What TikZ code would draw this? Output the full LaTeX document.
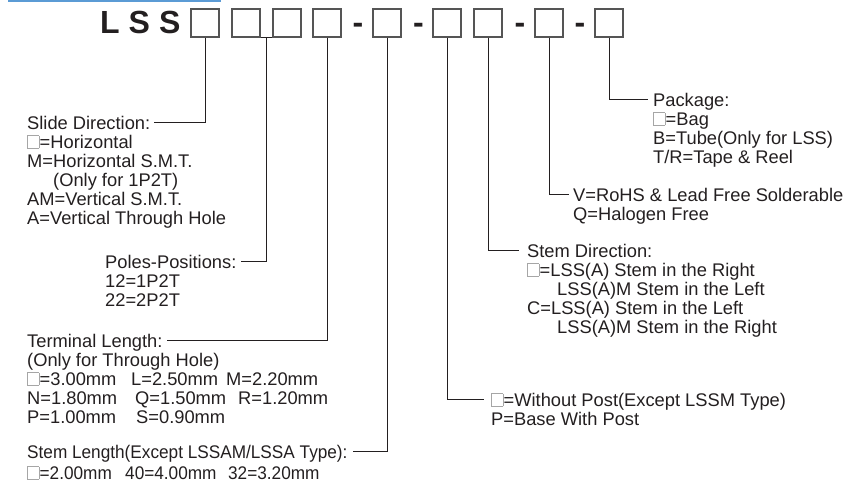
\documentclass[tikz,border=0pt]{standalone}
\usepackage{fontspec}
\setmainfont{Liberation Sans}
\definecolor{ink}{HTML}{231F20}
\definecolor{barblue}{HTML}{5B9BD5}
\definecolor{boxgray}{HTML}{555555}
\definecolor{sqgray}{HTML}{A6A6A6}
\newcommand{\sqb}{{\color{sqgray}\setlength{\fboxsep}{0pt}\setlength{\fboxrule}{0.7pt}\fbox{\rule{0pt}{12pt}\rule{10.6pt}{0pt}}}\kern0.5pt}
\begin{document}
\begin{tikzpicture}[x=1pt,y=-1pt,
  txt/.style={anchor=base west,inner sep=0pt,text height=14pt,text depth=0pt,font=\fontsize{18.3}{19}\selectfont,text=ink},
  narrow/.style={font=\fontsize{18.3}{19}\selectfont\addfontfeatures{FakeStretch=0.94}},
  pbox/.style={draw=boxgray,line width=1.1pt,minimum size=28pt,inner sep=0pt},
  conn/.style={draw=ink,line width=0.9pt},
  big/.style={anchor=base,inner sep=0pt,font=\fontsize{32}{32}\selectfont\bfseries,text=ink}]
\useasboundingbox (0,0) rectangle (857,485);
\fill[barblue] (8,0) rectangle (221,2.3);
% part number
\node[big,anchor=base west] (lss) at (100,33) {L\kern9pt S\kern9pt S};
\node[pbox] (b1) at (205,23) {};
\node[pbox] (b2) at (246,23) {};
\node[pbox] (b3) at (287,23) {};
\node[pbox] (b4) at (327,23) {};
\node[big] (d1) at (358,33) {-};
\node[pbox] (b5) at (387,23) {};
\node[big] (d2) at (418.5,33) {-};
\node[pbox] (b6) at (447,23) {};
\node[pbox] (b7) at (488,23) {};
\node[big] (d3) at (520,33) {-};
\node[pbox] (b8) at (549,23) {};
\node[big] (d4) at (580,33) {-};
\node[pbox] (b9) at (609,23) {};
% slide direction
\node[txt] (sd1) at (27,129) {Slide Direction:};
\node[txt] (sd2) at (27,148) {\sqb=Horizontal};
\node[txt] (sd3) at (27,167) {M=Horizontal S.M.T.};
\node[txt] (sd4) at (53,186) {(Only for 1P2T)};
\node[txt] (sd5) at (27,205) {AM=Vertical S.M.T.};
\node[txt] (sd6) at (27,224) {A=Vertical Through Hole};
% poles
\node[txt] (pp1) at (105,268) {Poles-Positions:};
\node[txt] (pp2) at (105,287) {12=1P2T};
\node[txt] (pp3) at (105,306) {22=2P2T};
% terminal length
\node[txt] (tl1) at (27,347) {Terminal Length:};
\node[txt] (tl2) at (27,366) {(Only for Through Hole)};
\node[txt] (tl3) at (27,385) {\makebox[104pt][l]{\sqb=3.00mm}\makebox[95pt][l]{L=2.50mm}M=2.20mm};
\node[txt] (tl4) at (27,404) {\makebox[108pt][l]{N=1.80mm}\makebox[103pt][l]{Q=1.50mm}R=1.20mm};
\node[txt] (tl5) at (27,423) {\makebox[109pt][l]{P=1.00mm}S=0.90mm};
% stem length
\node[txt,narrow] (sl1) at (27,458) {Stem Length(Except LSSAM/LSSA Type):};
\node[txt,narrow] (sl2) at (27,479) {\makebox[98pt][l]{\sqb=2.00mm}\makebox[103pt][l]{40=4.00mm}32=3.20mm};
% package
\node[txt] (pk1) at (653,106) {Package:};
\node[txt] (pk2) at (653,125) {\sqb=Bag};
\node[txt] (pk3) at (653,144) {B=Tube(Only for LSS)};
\node[txt] (pk4) at (653,163) {T/R=Tape \& Reel};
% rohs
\node[txt] (vq1) at (573,201) {V=RoHS \& Lead Free Solderable};
\node[txt] (vq2) at (573,220) {Q=Halogen Free};
% stem direction
\node[txt] (st1) at (527,257) {Stem Direction:};
\node[txt] (st2) at (527,276) {\sqb=LSS(A) Stem in the Right};
\node[txt] (st3) at (557,295) {LSS(A)M Stem in the Left};
\node[txt] (st4) at (527,314) {C=LSS(A) Stem in the Left};
\node[txt] (st5) at (557,333) {LSS(A)M Stem in the Right};
% post
\node[txt] (po1) at (491,406) {\sqb=Without Post(Except LSSM Type)};
\node[txt] (po2) at (491,425) {P=Base With Post};
% connectors
\coordinate (j23) at (266.5,37);
\draw[conn] (b2.south east) -- (b3.south west);
\draw[conn] (b1.south) |- ([xshift=4pt]sd1.east);
\draw[conn] (j23) |- ([xshift=4pt]pp1.east);
\draw[conn] (b4.south) |- ([xshift=4pt]tl1.east);
\draw[conn] (b5.south) |- ([xshift=5pt]sl1.east);
\draw[conn] (b6.south) |- ([xshift=-7pt]po1.west);
\draw[conn] (b7.south) |- ([xshift=-8pt]st1.west);
\draw[conn] (b8.south) |- ([xshift=-4pt]vq1.west);
\draw[conn] (b9.south) |- ([xshift=-5pt]pk1.west);
\end{tikzpicture}
\end{document}
